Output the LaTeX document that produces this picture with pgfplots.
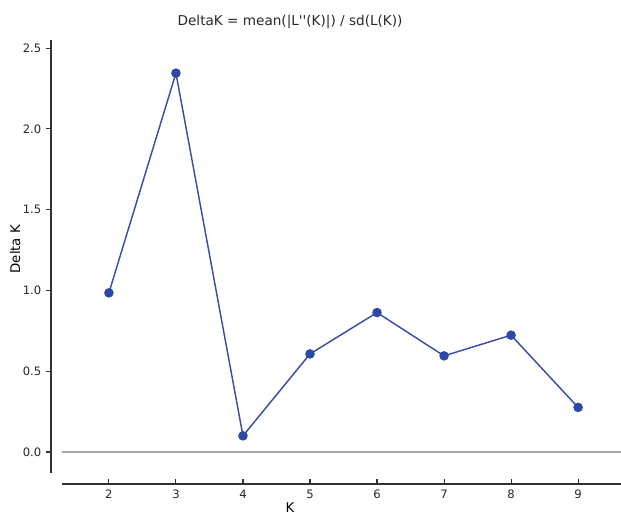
\documentclass[border=0pt]{standalone}
\usepackage{pgfplots}
\pgfplotsset{compat=1.18}
\usepackage{fontspec}
\setmainfont{DejaVu Sans}
\definecolor{lineblue}{RGB}{60,78,170}
\definecolor{markblue}{RGB}{45,72,165}
\definecolor{spine}{RGB}{50,50,50}
\definecolor{ticktext}{RGB}{40,40,40}
\begin{document}
\begin{tikzpicture}
\path[use as bounding box] (-46.5pt,-31.5pt) rectangle (419.25pt,354.75pt);
\begin{axis}[
  at={(0,0)}, anchor=south west,
  scale only axis, width=419.25pt, height=324.75pt,
  xmin=1.30, xmax=9.64, ymin=-0.13, ymax=2.55,
  separate axis lines,
  axis x line*=bottom, axis y line*=left,
  axis x line shift=8.25pt, axis y line shift=8.25pt,
  axis line style={spine, line width=1.1pt, -},
  xtick={2,3,4,5,6,7,8,9},
  ytick={0,0.5,1,1.5,2,2.5},
  yticklabels={0.0,0.5,1.0,1.5,2.0,2.5},
  xtick style={spine, line width=0.8pt},
  ytick style={spine, line width=0.8pt},
  x tick style={/pgfplots/major tick length=3.5pt},
  y tick style={/pgfplots/major tick length=3.5pt},
  xtick pos=bottom, ytick pos=left,
  xtick align=inside, ytick align=outside,
  tick label style={font=\fontsize{8.7}{10}\selectfont, text=ticktext},
  /pgf/number format/assume math mode=true,
  yticklabel style={xshift=0.5pt},
  xticklabel style={yshift=-1pt},
  title={DeltaK = mean(|L\textquotesingle\textquotesingle(K)|) / sd(L(K))},
  every axis title/.style={font=\fontsize{10.2}{12}\selectfont, at={(axis description cs:0.408,1.042)}, anchor=center, text=ticktext},
  xlabel={K}, ylabel={Delta K},
  label style={font=\fontsize{8.7}{10}\selectfont, text=ticktext},
  every axis x label/.style={at={(axis description cs:0.408,-0.081)}, anchor=center},
  every axis y label/.style={at={(axis description cs:-0.084,0.517)}, anchor=center, rotate=90},
  clip=false,
]
\addplot[gray!70, line width=0.8pt, no marks] coordinates {(1.30,0) (9.64,0)};
\addplot[lineblue, line width=1.1pt, mark=*, mark size=3pt,
  mark options={fill=markblue, draw=markblue}] coordinates {
  (2,0.985) (3,2.345) (4,0.100) (5,0.607) (6,0.863) (7,0.595) (8,0.723) (9,0.276)
};
\end{axis}
\end{tikzpicture}
\end{document}
